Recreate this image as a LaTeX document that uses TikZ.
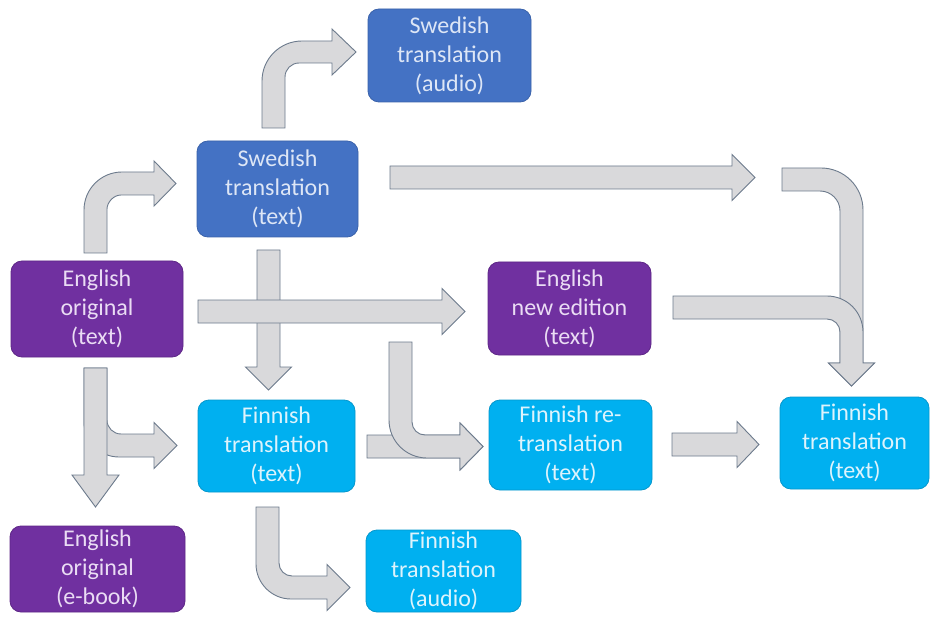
\documentclass[tikz,border=0pt]{standalone}
\usepackage{fontspec}
\setmainfont{Carlito}
\definecolor{cpurple}{HTML}{7030A0}
\definecolor{cpurpleb}{HTML}{5E2787}
\definecolor{cblue}{HTML}{4472C4}
\definecolor{cblueb}{HTML}{3A62AA}
\definecolor{ccyan}{HTML}{00B0F0}
\definecolor{ccyanb}{HTML}{0597CC}
\definecolor{tpurple}{HTML}{EADCF4}
\definecolor{tblue}{HTML}{DDE6F6}
\definecolor{tcyan}{HTML}{DDF3FC}
\definecolor{afill}{HTML}{D9D9DB}
\definecolor{aline}{HTML}{6C7A8C}
\tikzset{
  box/.style={rounded corners=11pt, line width=0.8pt, align=center, inner sep=0pt,
    font=\fontsize{24}{29}\selectfont},
  purplebox/.style={box, fill=cpurple, draw=cpurpleb, text=tpurple},
  bluebox/.style={box, fill=cblue, draw=cblueb, text=tblue},
  cyanbox/.style={box, fill=ccyan, draw=ccyanb, text=tcyan},
  blockarrow/.style={fill=afill, draw=aline, line width=0.9pt, line join=miter}
}
\begin{document}
\begin{tikzpicture}[x=1pt,y=-1pt]
\useasboundingbox[fill=white] (0,0) rectangle (931,620);

% nodes
\node[bluebox, minimum width=163pt, minimum height=93pt] (sa) at (449.5,55.5) {Swedish\\translation\\(audio)};
\node[bluebox, minimum width=161pt, minimum height=96pt] (st) at (277.5,189) {Swedish\\translation\\(text)};
\node[purplebox, minimum width=172pt, minimum height=96pt] (eo) at (97,309) {English\\original\\(text)};
\node[purplebox, minimum width=163pt, minimum height=93pt] (en) at (569.5,308.5) {English\\new edition\\(text)};
\node[cyanbox, minimum width=157pt, minimum height=92pt] (ft) at (276.5,446) {Finnish\\translation\\(text)};
\node[cyanbox, minimum width=163pt, minimum height=90pt] (fr) at (570.5,445) {Finnish re-\\translation\\(text)};
\node[cyanbox, minimum width=149pt, minimum height=92pt] (fn) at (854.5,443) {Finnish\\translation\\(text)};
\node[purplebox, minimum width=175pt, minimum height=86pt] (ee) at (97.5,569) {English\\original\\(e-book)};
\node[cyanbox, minimum width=155pt, minimum height=82pt] (fa) at (443.5,571) {Finnish\\translation\\(audio)};

% A7: Swedish text -> Finnish text
\draw[blockarrow] (257,250) -- (280,250) -- (280,367) -- (291.5,367) -- (268.5,390) -- (245.5,367) -- (257,367) -- cycle;
% A6: English original -> English new edition
\draw[blockarrow] (198,300) -- (442,300) -- (442,288.5) -- (465,311.5) -- (442,334.5) -- (442,323) -- (198,323) -- cycle;
% A3: Swedish text -> right
\draw[blockarrow] (390,166) -- (732,166) -- (732,154.5) -- (755,177.5) -- (732,200.5) -- (732,189) -- (390,189) -- cycle;
% A1: English original -> Swedish text
\draw[blockarrow] (84,253) -- (84,210) .. controls (84,189) and (101,172) .. (122,172) -- (154,172) -- (154,161) -- (176,183.5) -- (154,206) -- (154,195) -- (121,195) .. controls (113.3,195) and (107,202.7) .. (107,209) -- (107,253) -- cycle;
% A2: Swedish text -> Swedish audio
\draw[blockarrow] (262,128) -- (262,81) .. controls (262,58.9) and (279.9,41) .. (302,41) -- (332,41) -- (332,29) -- (356,52) -- (332,75) -- (332,63) -- (299,63) .. controls (291.3,63) and (285,69.3) .. (285,77) -- (285,128) -- cycle;
% A4: top right bend down
\draw[blockarrow] (782,168) -- (821,168) .. controls (844.2,168) and (863,186.8) .. (863,210) -- (863,363) -- (874.5,363) -- (851.5,386) -- (828.5,363) -- (840,363) -- (840,211) .. controls (840,200) and (831,191) .. (820,191) -- (782,191) -- cycle;
% A5: English new edition -> Finnish (right)
\draw[blockarrow] (673,296) -- (827,296) .. controls (846.9,296) and (863,312.1) .. (863,332) -- (863,363) -- (874.5,363) -- (851.5,386) -- (828.5,363) -- (840,363) -- (840,332) .. controls (840,324.8) and (834.2,319) .. (827,319) -- (673,319) -- cycle;
% A9: English original -> Finnish text (branch)
\draw[blockarrow] (84,368) -- (84,422) .. controls (84,441.3) and (99.7,457) .. (119,457) -- (154,457) -- (154,468.5) -- (177,445.5) -- (154,422.5) -- (154,434) -- (121,434) .. controls (113.3,434) and (107,427.7) .. (107,420) -- (107,368) -- cycle;
% A8: English original -> e-book
\draw[blockarrow] (84,368) -- (107,368) -- (107,475) -- (119,475) -- (95.5,507) -- (72,475) -- (84,475) -- cycle;
% A10: Finnish text -> re-translation
\draw[blockarrow] (367,435) -- (460,435) -- (460,423) -- (483,446.5) -- (460,470) -- (460,458) -- (367,458) -- cycle;
% A11: bent into re-translation
\draw[blockarrow] (389,342) -- (412,342) -- (412,422) .. controls (412,429.2) and (417.8,435) .. (425,435) -- (460,435) -- (460,423) -- (483,446.5) -- (460,470) -- (460,458) -- (427,458) .. controls (406,458) and (389,441) .. (389,420) -- cycle;
% A12: re-translation -> Finnish (right)
\draw[blockarrow] (672,433) -- (737,433) -- (737,421.5) -- (759,444.5) -- (737,467.5) -- (737,456) -- (672,456) -- cycle;
% A13: Finnish text -> Finnish audio
\draw[blockarrow] (256,507) -- (279,507) -- (279,563) .. controls (279,570.2) and (284.8,576) .. (292,576) -- (327,576) -- (327,564.5) -- (350,587.5) -- (327,610.5) -- (327,599) -- (291,599) .. controls (271.7,599) and (256,583.3) .. (256,564) -- cycle;
\end{tikzpicture}
\end{document}
